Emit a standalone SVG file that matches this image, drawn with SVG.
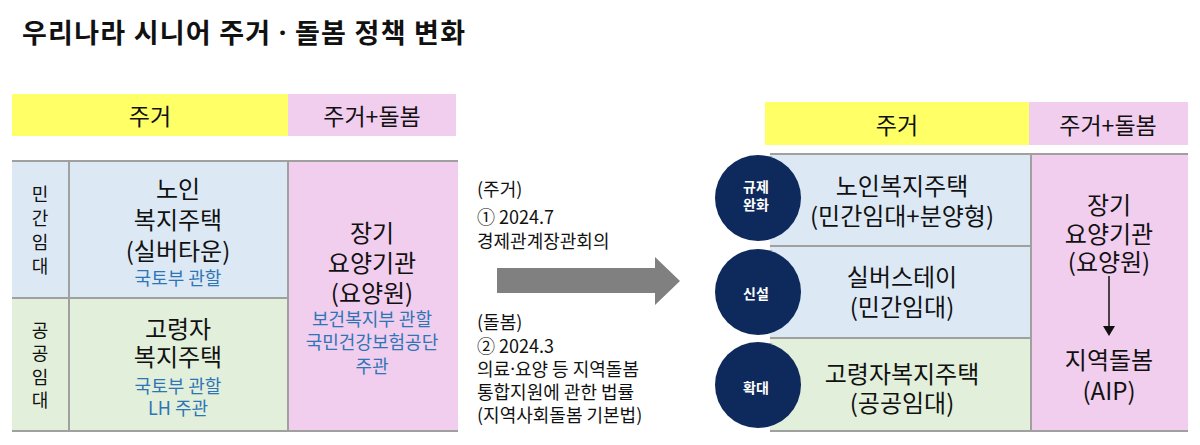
<svg xmlns="http://www.w3.org/2000/svg" width="1200" height="445" viewBox="0 0 1200 445">
<style>
text{font-family:"Noto Sans CJK KR","Noto Sans",sans-serif;fill:#111;dominant-baseline:central}
.c{text-anchor:middle}
.t{font-size:27px;font-weight:bold}
.h{font-size:23px}
.b{font-size:24px}
.s{font-size:18px}
.blue{fill:#2e75b6}
.m{font-size:18px}
.w{fill:#fff;font-size:14px;font-weight:bold}
.dot{font-family:"Noto Sans",sans-serif}
.yel{fill:#ffff66}
.pink{fill:#f1cdee}
.lb{fill:#dce9f5}
.gr{fill:#e2efda}
.ln{stroke:#a0a0a0;stroke-width:2;fill:none}
.nv{fill:#0e2a5c}
</style>
<defs>
<marker id="ah" markerWidth="10" markerHeight="12" refX="8" refY="6" orient="auto" markerUnits="userSpaceOnUse">
<path d="M0,0 L10,6 L0,12 Z" fill="#111"/>
</marker>
</defs>
<rect width="1200" height="445" fill="#fff"/>
<g id="title"><text class="t" x="22" y="31" textLength="443" lengthAdjust="spacing">우리나라 시니어 주거 <tspan class="dot">·</tspan> 돌봄 정책 변화</text></g>

<g id="left-header">
<rect class="yel" x="12" y="94" width="276" height="42"/>
<rect class="pink" x="288" y="94" width="168" height="42"/>
<text class="h c" x="150" y="115">주거</text>
<text class="h c" x="372" y="115">주거+돌봄</text>
</g>

<g id="left-private">
<rect class="lb" x="12" y="162" width="276" height="137"/>
<text class="s c" x="40" y="193">민</text>
<text class="s c" x="40" y="217">간</text>
<text class="s c" x="40" y="241">임</text>
<text class="s c" x="40" y="265">대</text>
<text class="b c" x="178" y="187">노인</text>
<text class="b c" x="178" y="218">복지주택</text>
<text class="b c" x="178" y="249">(실버타운)</text>
<text class="s c blue" x="178" y="277">국토부 관할</text>
</g>

<g id="left-public">
<rect class="gr" x="12" y="299" width="276" height="132"/>
<text class="s c" x="40" y="329">공</text>
<text class="s c" x="40" y="352">공</text>
<text class="s c" x="40" y="376">임</text>
<text class="s c" x="40" y="399">대</text>
<text class="b c" x="178" y="327">고령자</text>
<text class="b c" x="178" y="355">복지주택</text>
<text class="s c blue" x="178" y="385">국토부 관할</text>
<text class="s c blue" x="178" y="407">LH 주관</text>
</g>

<g id="left-care">
<rect class="pink" x="288" y="162" width="170" height="269"/>
<text class="b c" x="372" y="231">장기</text>
<text class="b c" x="372" y="261">요양기관</text>
<text class="b c" x="372" y="291">(요양원)</text>
<text class="s c blue" x="372" y="318">보건복지부 관할</text>
<text class="s c blue" x="372" y="341">국민건강보험공단</text>
<text class="s c blue" x="372" y="365">주관</text>
</g>

<g id="left-lines">
<line class="ln" x1="12" y1="161" x2="458" y2="161"/>
<line class="ln" x1="12" y1="298" x2="288" y2="298"/>
<line class="ln" x1="12" y1="431" x2="458" y2="431"/>
<line class="ln" x1="69" y1="161" x2="69" y2="431"/>
<line class="ln" x1="288" y1="161" x2="288" y2="431"/>
</g>

<g id="middle-text">
<text class="m" x="477" y="188">(주거)</text>
<text class="m" x="477" y="216">① 2024.7</text>
<text class="m" x="477" y="240">경제관계장관회의</text>
<text class="m" x="477" y="321">(돌봄)</text>
<text class="m" x="477" y="345">② 2024.3</text>
<text class="m" x="477" y="368">의료<tspan class="dot">·</tspan>요양 등 지역돌봄</text>
<text class="m" x="477" y="391">통합지원에 관한 법률</text>
<text class="m" x="477" y="414">(지역사회돌봄 기본법)</text>
</g>

<g id="right-header">
<rect class="yel" x="765" y="102" width="264" height="43"/>
<rect class="pink" x="1029" y="102" width="159" height="43"/>
<text class="h c" x="897" y="124">주거</text>
<text class="h c" x="1108" y="124">주거+돌봄</text>
</g>

<g id="right-row1">
<rect class="lb" x="770" y="155" width="261" height="91"/>
<text class="b c" x="902" y="184">노인복지주택</text>
<text class="b c" x="902" y="214">(민간임대+분양형)</text>
</g>
<g id="right-row2">
<rect class="lb" x="770" y="246" width="261" height="92"/>
<text class="b c" x="902" y="275">실버스테이</text>
<text class="b c" x="902" y="305">(민간임대)</text>
</g>
<g id="right-row3">
<rect class="gr" x="770" y="338" width="261" height="93"/>
<text class="b c" x="902" y="372">고령자복지주택</text>
<text class="b c" x="902" y="401">(공공임대)</text>
</g>
<g id="right-care">
<rect class="pink" x="1031" y="155" width="157" height="276"/>
<text class="b c" x="1109" y="203">장기</text>
<text class="b c" x="1109" y="232">요양기관</text>
<text class="b c" x="1109" y="260">(요양원)</text>
<text class="b c" x="1109" y="358">지역돌봄</text>
<text class="b c" x="1109" y="389">(AIP)</text>
</g>

<g id="right-lines">
<line class="ln" x1="770" y1="154" x2="1188" y2="154"/>
<line class="ln" x1="770" y1="246" x2="1031" y2="246"/>
<line class="ln" x1="770" y1="338" x2="1031" y2="338"/>
<line class="ln" x1="770" y1="431" x2="1188" y2="431"/>
<line class="ln" x1="1031" y1="154" x2="1031" y2="431"/>
</g>

<g id="connectors">
<polygon points="497,268 655,268 655,257 680,281 655,305 655,293 497,293" fill="#808080"/>
<line x1="1109" y1="276" x2="1109" y2="334" stroke="#111" stroke-width="1.5" marker-end="url(#ah)"/>
</g>

<g id="badge-1">
<circle class="nv" cx="758" cy="198" r="43"/>
<text class="w c" x="756" y="186">규제</text>
<text class="w c" x="756" y="204">완화</text>
</g>
<g id="badge-2">
<circle class="nv" cx="758" cy="292" r="43"/>
<text class="w c" x="756" y="293">신설</text>
</g>
<g id="badge-3">
<circle class="nv" cx="758" cy="385" r="43"/>
<text class="w c" x="756" y="387">확대</text>
</g>
</svg>
